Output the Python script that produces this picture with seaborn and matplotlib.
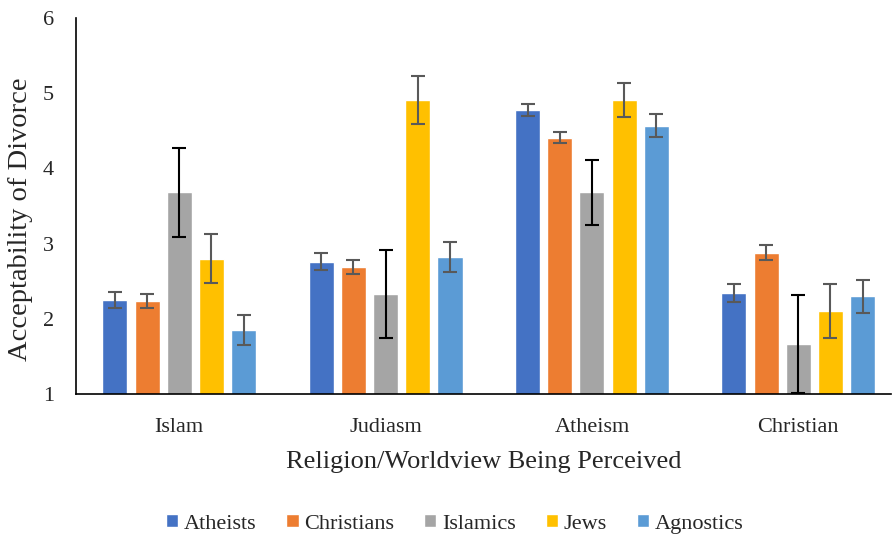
import pandas as pd
import matplotlib.pyplot as plt
import seaborn as sns

categories = ['Islam', 'Judiasm', 'Atheism', 'Christian']
groups = ['Atheists', 'Christians', 'Islamics', 'Jews', 'Agnostics']

atheists = [2.25, 2.76, 4.78, 2.34]
christians = [2.24, 2.69, 4.41, 2.88]
islamics = [3.68, 2.33, 3.68, 1.67]
jews = [2.80, 4.91, 4.91, 2.10]
agnostics = [1.85, 2.82, 4.57, 2.30]

atheists_err = [0.11, 0.11, 0.08, 0.12]
christians_err = [0.09, 0.09, 0.07, 0.10]
islamics_err = [0.59, 0.58, 0.43, 0.65]
jews_err = [0.33, 0.32, 0.23, 0.36]
agnostics_err = [0.20, 0.20, 0.15, 0.22]

values = [atheists, christians, islamics, jews, agnostics]
errors = [atheists_err, christians_err, islamics_err, jews_err, agnostics_err]
colors = ['#4472C4', '#ED7D31', '#A5A5A5', '#FFC000', '#5B9BD5']
err_colors = ['#595959', '#595959', '#000000', '#595959', '#595959']

rows = []
for g, vals in zip(groups, values):
    for c, v in zip(categories, vals):
        rows.append({'Religion': c, 'Group': g, 'Score': v})
df = pd.DataFrame(rows)

sns.set_style('white')
plt.rcParams['font.family'] = ['Liberation Serif', 'DejaVu Serif']

fig = plt.figure(figsize=(8.95, 5.44), dpi=100)
ax = fig.add_axes([0.085, 0.2757, 0.91, 0.6913])

sns.barplot(data=df, x='Religion', y='Score', hue='Group', order=categories,
            hue_order=groups, palette=colors, errorbar=None, width=0.78,
            gap=0.22, saturation=1, ax=ax)

for cont, errs, ec in zip(ax.containers, errors, err_colors):
    xs = [b.get_x() + b.get_width() / 2 for b in cont]
    ys = [b.get_height() for b in cont]
    ax.errorbar(xs, ys, yerr=errs, fmt='none', ecolor=ec, elinewidth=1.5,
                capsize=5, capthick=1.5, zorder=5)

ax.set_ylim(1, 6)
ax.set_xlim(-0.5, 3.447)
ax.set_yticks([1, 2, 3, 4, 5, 6])
ax.tick_params(axis='both', length=0, labelsize=16)
ax.tick_params(axis='y', pad=16)
ax.tick_params(axis='x', pad=17)
for s in ['top', 'right']:
    ax.spines[s].set_visible(False)
for s in ['left', 'bottom']:
    ax.spines[s].set_color('black')
    ax.spines[s].set_linewidth(1.2)

ax.set_xlabel('Religion/Worldview Being Perceived', fontsize=19, labelpad=10)
ax.set_ylabel('Acceptability of Divorce', fontsize=20.5)
ax.yaxis.set_label_coords(-0.053, 0.465)

handles, labels = ax.get_legend_handles_labels()
ax.get_legend().remove()
fig.legend(handles, labels, loc='center', bbox_to_anchor=(0.508, 0.037), ncol=5,
           frameon=False, fontsize=16, handlelength=0.55, handleheight=0.55,
           handletextpad=0.25, columnspacing=1.35)

fig.savefig('out.png', dpi=100)
